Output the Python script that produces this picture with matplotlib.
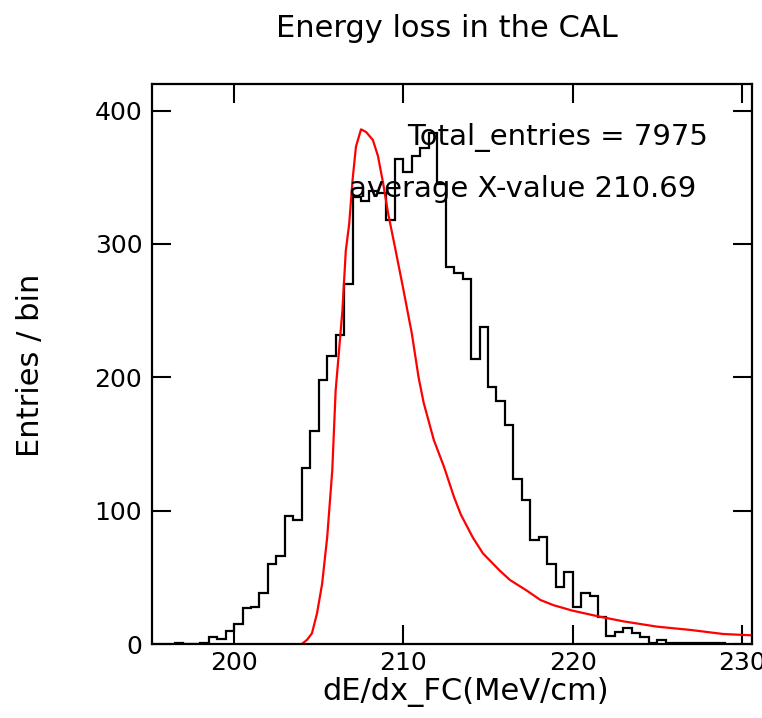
import numpy as np
import matplotlib
matplotlib.use("Agg")
import matplotlib.pyplot as plt

# ---------------- data ----------------
bin_start = 196.5
bin_width = 0.5
counts = [1, 0, 0, 1, 5, 4, 10,
          15, 27, 28, 38, 60, 66, 96, 93, 132, 160,
          198, 216, 232, 270, 335, 332, 340, 338, 318, 364,
          354, 366, 372, 383, 345, 283, 278, 274, 214, 238,
          193, 182, 164, 124, 108, 78, 80, 60, 43, 54,
          28, 38, 36, 20, 6, 9, 12, 8, 5, 1, 3,
          1, 1, 1, 1, 1, 1, 1]

fit_x = [204.0, 204.3, 204.6, 204.9, 205.2, 205.5, 205.8, 206.0, 206.2, 206.4,
         206.6, 206.8, 207.0, 207.2, 207.5, 207.8, 208.2, 208.5, 208.8, 209.1,
         209.5, 210.0, 210.5, 210.9, 211.2, 211.8, 212.4, 213.0, 213.4, 214.1,
         214.7, 215.7, 216.3, 217.3, 218.1, 218.9, 220.0, 221.6, 223.0, 225.0,
         227.0, 228.9, 230.6]
fit_y = [0, 3, 8, 23, 45, 80, 130, 190, 220, 250,
         295, 315, 348, 373, 386, 384, 378, 366, 346, 323,
         298, 266, 233, 200, 181, 153, 133, 110, 97, 80,
         68, 55, 48, 40, 33, 29, 25, 20.5, 17, 13,
         10.5, 7.5, 6.5]

title = "Energy loss in the CAL"
xlabel = "dE/dx_FC(MeV/cm)"
ylabel = "Entries / bin"
x_ticks = [200, 210, 220, 230]
y_ticks = [0, 100, 200, 300, 400]
total_entries = 7975
average_x = 210.69

# ---------------- figure ----------------
W, H = 762, 718
fig = plt.figure(figsize=(W / 100, H / 100), dpi=100)
fig.patch.set_facecolor("white")
ax = fig.add_axes([152 / W, 1 - 644 / H, 600 / W, 560 / H])

edges = bin_start + bin_width * np.arange(len(counts) + 1)
ax.stairs(counts, edges, color="black", lw=1.6)
ax.plot(fit_x, fit_y, color="red", lw=1.6)

ax.set_xlim(195.15, 230.6)
ax.set_ylim(0, 420)
ax.set_xticks(x_ticks)
ax.set_yticks(y_ticks)
ax.tick_params(direction="in", length=14, width=1.5, top=True, right=True,
               labelsize=18, colors="black")
ax.tick_params(axis="x", pad=5)
ax.tick_params(axis="y", pad=7)
for s in ax.spines.values():
    s.set_linewidth(1.6)

fig.text(447 / W, 1 - 37 / H, title, ha="center", va="baseline", fontsize=22)
fig.text(466 / W, 1 - 692 / H, xlabel, ha="center", va="center", fontsize=22)
fig.text(31 / W, 1 - 365 / H, ylabel, ha="center", va="center", rotation=90, fontsize=22)

fig.text(407 / W, 1 - 145 / H, f"Total_entries = {total_entries}",
         ha="left", va="baseline", fontsize=21)
fig.text(349 / W, 1 - 197 / H, f"average X-value {average_x:.2f}",
         ha="left", va="baseline", fontsize=21)

fig.savefig("out.png", dpi=100)
